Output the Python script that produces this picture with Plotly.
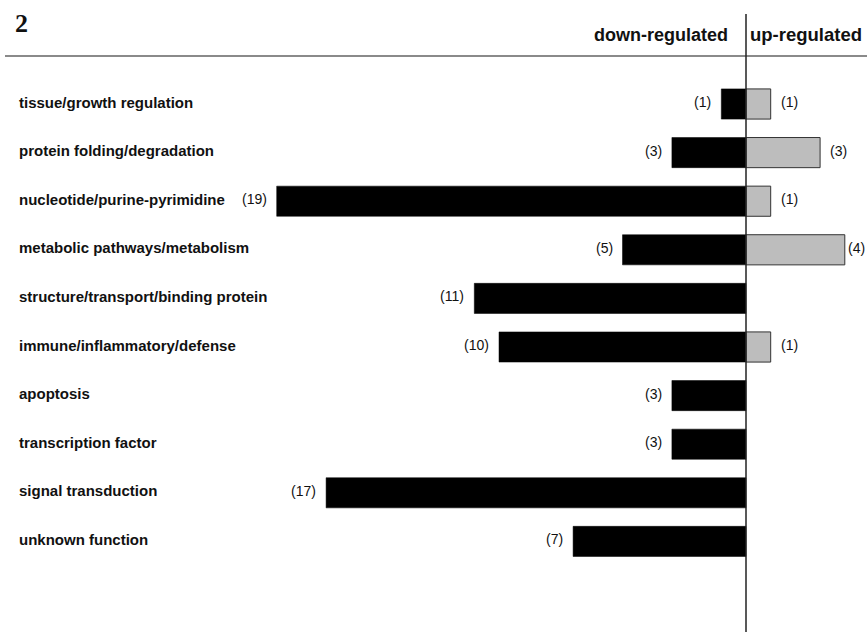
import plotly.graph_objects as go

categories = ["tissue/growth regulation", "protein folding/degradation", "nucleotide/purine-pyrimidine",
              "metabolic pathways/metabolism", "structure/transport/binding protein",
              "immune/inflammatory/defense", "apoptosis", "transcription factor",
              "signal transduction", "unknown function"]
down_counts = [1, 3, 19, 5, 11, 10, 3, 3, 17, 7]
up_counts = [1, 3, 1, 4, 0, 1, 0, 0, 0, 0]

W, H = 867, 632
zero_px = 746
px_per_unit = 24.7
row0_px = 104
row_step = 48.6

SANS = "Liberation Sans, Arial, Helvetica, sans-serif"
idx = list(range(len(categories)))
fig = go.Figure()
fig.add_trace(go.Bar(y=idx, x=[-d for d in down_counts], orientation="h", width=0.62,
                     marker=dict(color="#000000", line=dict(color="#000000", width=0.5)),
                     hoverinfo="skip", showlegend=False))
up_idx = [i for i in idx if up_counts[i] > 0]
fig.add_trace(go.Bar(y=up_idx, x=[up_counts[i] for i in up_idx], orientation="h", width=0.62,
                     marker=dict(color="#bdbdbd", line=dict(color="#333333", width=1)),
                     hoverinfo="skip", showlegend=False))

ann = []
lab_font = dict(family=SANS, size=15, color="#111111")
val_font = dict(family=SANS, size=14, color="#111111")
for i, c in enumerate(categories):
    ann.append(dict(x=17 / W, xref="paper", y=i, yref="y", yshift=2, text="<b>%s</b>" % c,
                    showarrow=False, xanchor="left", yanchor="middle", font=lab_font))
    ann.append(dict(x=-down_counts[i], y=i, xref="x", yref="y", text="(%d)" % down_counts[i],
                    showarrow=False, xanchor="right", yanchor="middle", xshift=-8, yshift=2,
                    font=val_font))
    if up_counts[i] > 0:
        ann.append(dict(x=up_counts[i], y=i, xref="x", yref="y", text="(%d)" % up_counts[i],
                        showarrow=False, xanchor="left", yanchor="middle",
                        xshift=8 if up_counts[i] < 4 else 1, yshift=2, font=val_font))

ann.append(dict(x=13 / W, xref="paper", y=1 - 24 / H, yref="paper", text="<b>2</b>",
                showarrow=False, xanchor="left", yanchor="middle",
                font=dict(family="Liberation Serif, Times New Roman, serif", size=26, color="#111111")))
ann.append(dict(x=0, xref="x", y=1 - 35 / H, yref="paper", text="<b>down-regulated</b>",
                showarrow=False, xanchor="right", yanchor="middle", xshift=-16,
                font=dict(family=SANS, size=18, color="#111111")))
ann.append(dict(x=0, xref="x", y=1 - 35 / H, yref="paper", text="<b>up-regulated</b>",
                showarrow=False, xanchor="left", yanchor="middle", xshift=2,
                font=dict(family=SANS, size=18.5, color="#111111")))

shapes = [
    dict(type="line", xref="paper", yref="paper", x0=5 / W, x1=1, y0=1 - 56 / H, y1=1 - 56 / H,
         line=dict(color="#8a8a8a", width=2)),
    dict(type="line", xref="x", yref="paper", x0=0, x1=0, y0=0, y1=1 - 14 / H,
         line=dict(color="#222222", width=1.5)),
]

fig.update_layout(
    width=W, height=H, margin=dict(l=0, r=0, t=0, b=0),
    paper_bgcolor="white", plot_bgcolor="white", barmode="overlay",
    xaxis=dict(range=[-zero_px / px_per_unit, (W - zero_px) / px_per_unit], visible=False, fixedrange=True),
    yaxis=dict(range=[(H - row0_px) / row_step, -row0_px / row_step], visible=False, fixedrange=True),
    annotations=ann, shapes=shapes,
)
fig.write_html("out.html", config={"displayModeBar": False},
               post_script="document.body.style.margin='0';document.body.style.overflow='hidden';")
